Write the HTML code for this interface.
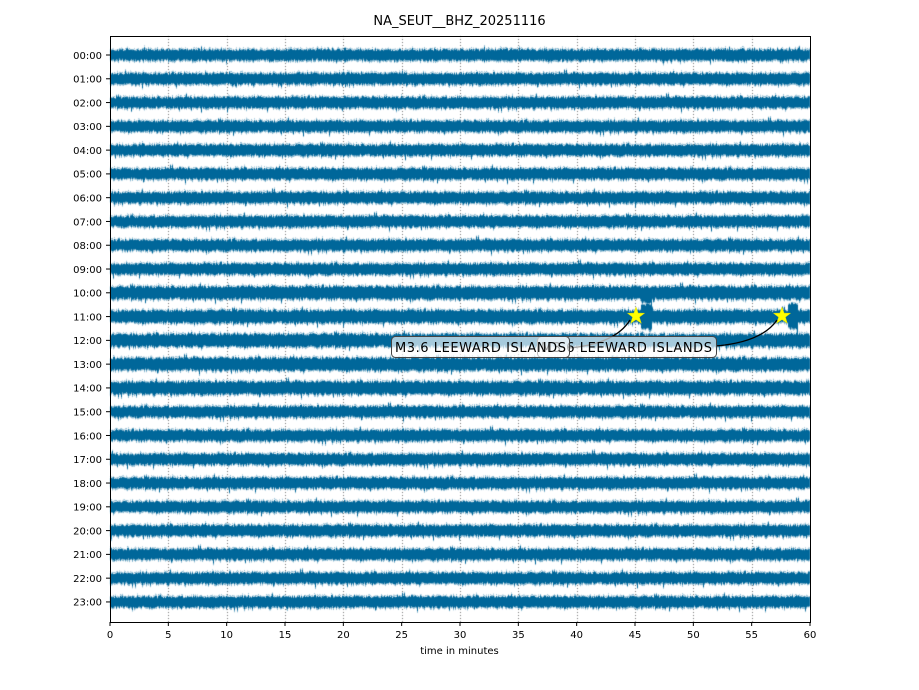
<!DOCTYPE html>
<html><head><style>
body{margin:0;background:#fff;font-family:"DejaVu Sans",sans-serif}
#c{position:absolute;left:0;top:0}
</style></head><body>
<canvas id="c" width="919" height="690"></canvas>
<svg id="s" width="919" height="690" style="position:absolute;left:0;top:0" font-family="DejaVu Sans, Liberation Sans, sans-serif"></svg>
<script>
const c=document.getElementById('c').getContext('2d');
const L=110,R=810,T=36,B=622;
c.fillStyle='#fff';c.fillRect(0,0,919,690);
c.strokeStyle='#555';c.lineWidth=0.8;c.setLineDash([1,2]);
for(let i=1;i<12;i++){const x=Math.round(L+700*i/12)+0.5;c.beginPath();c.moveTo(x,T);c.lineTo(x,B);c.stroke();}
c.setLineDash([]);
let seed=12345;function rnd(){seed=(seed*1103515245+12345)&0x7fffffff;return seed/0x7fffffff;}
function g(){return (rnd()+rnd()+rnd()-1.5)*1.4;}
const col='#00679a';
for(let k=0;k<24;k++){
 const y0=55+23.78*k;
 let env=1;
 for(let x=L;x<R;x++){
  env=env*0.97+0.03*(0.8+rnd()*0.6);
  let a=(4.2+ (k>=10&&k<=14?0.8:0))*env;
  let up=a*(0.8+0.4*rnd())+Math.abs(g())*1.2, dn=a*(0.8+0.4*rnd())+Math.abs(g())*1.2;
  if(rnd()<0.02){up+=4*rnd();}
  if(rnd()<0.02){dn+=4*rnd();}
  if(k==11&&((x>640&&x<652)||(x>787&&x<798))){up+=6;dn+=6;}
  if(k==10&&x>640&&x<652){dn+=4;}
  c.fillStyle=col;c.fillRect(x,y0-up,1,up+dn);
  c.fillStyle='rgba(0,103,154,0.45)';c.fillRect(x,y0-up-1.5*rnd()-0.5,1,1);c.fillRect(x,y0+dn,1,1.5*rnd()+0.5);
 }
}
const s=document.getElementById('s');let h='';
h+=`<rect x="${L}.5" y="${T}.5" width="700" height="586" fill="none" stroke="#000" stroke-width="1"/>`;
h+=`<text x="459.5" y="25" font-size="13" text-anchor="middle">NA_SEUT__BHZ_20251116</text>`;
for(let k=0;k<24;k++){const y=55+23.78*k;const lab=String(k).padStart(2,'0')+':00';
 h+=`<line x1="106" x2="110" y1="${y}" y2="${y}" stroke="#000"/><text x="102" y="${y+3.8}" font-size="10" text-anchor="end">${lab}</text>`;}
for(let i=0;i<=12;i++){const x=L+700*i/12;
 h+=`<line x1="${x}" x2="${x}" y1="622" y2="626" stroke="#000"/><text x="${x}" y="638" font-size="10" text-anchor="middle">${i*5}</text>`;}
h+=`<text x="459.5" y="654" font-size="10" text-anchor="middle">time in minutes</text>`;
h+=`<path d="M569,348 Q615,344 630,320" fill="none" stroke="#000" stroke-width="1.3"/>`;
h+=`<path d="M716,346 Q762,342 777,320" fill="none" stroke="#000" stroke-width="1.3"/>`;
h+=`<rect x="537.5" y="336.5" width="179" height="21" rx="4" fill="rgba(255,255,255,0.65)" stroke="#444"/>`;
h+=`<text x="541" y="352" font-size="13" textLength="171">M3.6 LEEWARD ISLANDS</text>`;
h+=`<rect x="391.5" y="336.5" width="178" height="21" rx="4" fill="rgba(255,255,255,0.65)" stroke="#444"/>`;
h+=`<text x="395" y="352" font-size="13" textLength="171">M3.6 LEEWARD ISLANDS</text>`;
function star(cx,cy,r){let p=[];for(let i=0;i<10;i++){const rr=i%2?r*0.4:r;const a=-Math.PI/2+i*Math.PI/5;p.push((cx+rr*Math.cos(a)).toFixed(1)+','+(cy+rr*Math.sin(a)).toFixed(1));}return `<polygon points="${p.join(' ')}" fill="#ffff00" stroke="#dddd00" stroke-width="0.5"/>`;}
h+=star(636,316,9)+star(782,316,9);
s.innerHTML=h;
</script>
</body></html>
